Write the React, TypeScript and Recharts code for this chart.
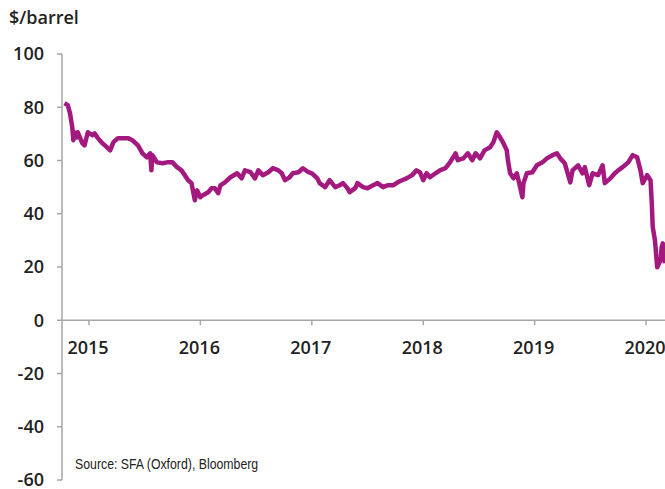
import React from 'react';
import { LineChart, Line, XAxis, YAxis, ReferenceLine } from 'recharts';

// time as decimal year
const dates = [
  2014.78, 2014.81, 2014.83, 2014.85, 2014.86, 2014.87, 2014.89, 2014.9, 2014.94, 2014.96,
  2014.99, 2015.03, 2015.05, 2015.08, 2015.12, 2015.16, 2015.19, 2015.22, 2015.26, 2015.31,
  2015.35, 2015.39, 2015.44, 2015.48, 2015.52, 2015.55, 2015.56, 2015.57, 2015.61, 2015.66,
  2015.7, 2015.75, 2015.79, 2015.83, 2015.86, 2015.89, 2015.92, 2015.95, 2015.97, 2016.0,
  2016.02, 2016.07, 2016.1, 2016.13, 2016.16, 2016.18, 2016.22, 2016.27, 2016.33, 2016.37,
  2016.4, 2016.45, 2016.49, 2016.52, 2016.56, 2016.61, 2016.65, 2016.7, 2016.73, 2016.76,
  2016.8, 2016.83, 2016.88, 2016.92, 2016.97, 2017.0, 2017.05, 2017.07, 2017.12, 2017.16,
  2017.21, 2017.25, 2017.28, 2017.32, 2017.34, 2017.39, 2017.41, 2017.46, 2017.5, 2017.55,
  2017.59, 2017.64, 2017.68, 2017.73, 2017.77, 2017.81, 2017.85, 2017.9, 2017.94, 2017.97,
  2018.0, 2018.03, 2018.06, 2018.11, 2018.15, 2018.2, 2018.24, 2018.29, 2018.31, 2018.36,
  2018.4, 2018.44, 2018.47, 2018.51, 2018.55, 2018.6, 2018.63, 2018.66, 2018.69, 2018.72,
  2018.75, 2018.76, 2018.78, 2018.81, 2018.84, 2018.87, 2018.89, 2018.9, 2018.93, 2018.98,
  2019.02, 2019.07, 2019.11, 2019.16, 2019.2, 2019.23, 2019.27, 2019.32, 2019.34, 2019.39,
  2019.43, 2019.45, 2019.49, 2019.52, 2019.57, 2019.61, 2019.63, 2019.68, 2019.72, 2019.75,
  2019.79, 2019.84, 2019.88, 2019.92, 2019.95, 2019.97, 2020.01, 2020.04, 2020.05, 2020.06,
  2020.08, 2020.1, 2020.13, 2020.14, 2020.15, 2020.17,
];

// Brent, $/barrel
const prices = [
  81.5, 80.8, 77.7, 72.5, 67.6, 70.6, 68.7, 70.6, 66.5, 65.7,
  70.6, 69.5, 70.2, 68.4, 66.5, 65.0, 63.8, 66.9, 68.4, 68.4,
  68.4, 67.6, 65.7, 62.7, 61.2, 62.7, 56.3, 62.0, 59.3, 59.0,
  59.3, 59.3, 57.5, 56.3, 54.5, 52.6, 51.5, 45.1, 48.8, 46.2,
  46.9, 48.1, 49.6, 49.6, 47.7, 50.7, 51.8, 53.7, 55.2, 53.3,
  56.3, 55.6, 53.3, 56.3, 54.5, 55.6, 57.1, 56.3, 55.2, 52.6,
  53.7, 55.2, 55.6, 57.1, 55.6, 55.2, 53.3, 51.5, 50.0, 52.6,
  50.0, 50.7, 51.5, 49.6, 48.1, 49.6, 51.5, 50.0, 49.6, 50.7,
  51.5, 50.0, 50.7, 50.7, 51.8, 52.6, 53.3, 54.5, 56.3, 55.6,
  52.6, 55.2, 53.7, 55.2, 56.3, 57.1, 59.3, 62.7, 60.1, 60.8,
  62.7, 60.1, 62.7, 60.8, 63.8, 65.0, 66.9, 70.6, 68.7, 66.5,
  63.8, 60.1, 55.2, 53.3, 55.2, 50.0, 46.2, 51.5, 55.2, 55.6,
  58.2, 59.3, 60.8, 62.0, 62.7, 60.8, 59.0, 51.8, 56.3, 58.2,
  55.2, 57.5, 50.7, 55.2, 54.5, 58.2, 51.5, 53.3, 55.2, 56.3,
  57.5, 59.3, 62.0, 61.2, 56.3, 51.5, 54.5, 52.6, 45.1, 35.0,
  30.0, 19.9, 22.5, 27.4, 28.9, 21.4,
];

const yearTicks = [2015, 2016, 2017, 2018, 2019, 2020];
const valueTicks = [-60, -40, -20, 0, 20, 40, 60, 80, 100];

const data = dates.map((t, i) => ({ t, price: prices[i] }));

const W = 665;
const H = 489;
const TOP = 54;
const BOTTOM = 480;
const ZERO_Y = TOP + (100 / 160) * (BOTTOM - TOP);
const AXIS = '#a6a6a6';
const FONT = '"Open Sans", "Liberation Sans", sans-serif';

const YearTick = (props: any) => {
  const { x, payload } = props;
  return (
    <g>
      <line x1={x} x2={x} y1={ZERO_Y} y2={ZERO_Y + 5} stroke={AXIS} strokeWidth={1.5} />
      <text x={x - 1} y={ZERO_Y + 34} textAnchor="middle" fontFamily={FONT} fontWeight={600} fontSize={18} fill="#222">
        {payload.value}
      </text>
    </g>
  );
};

export default function App() {
  return (
    <div style={{ position: 'absolute', left: 0, top: 0, width: W, height: H, background: '#fff' }}>
      <div style={{ position: 'absolute', left: 9, top: 5, fontFamily: FONT, fontWeight: 600, fontSize: 18, color: '#222' }}>
        $/barrel
      </div>
      <LineChart width={W} height={H} data={data} margin={{ top: TOP, right: 0, bottom: H - BOTTOM - 1, left: 2 }}>
        <XAxis
          dataKey="t"
          type="number"
          domain={[2014.758, 2020.17]}
          ticks={yearTicks}
          interval={0}
          axisLine={false}
          tickLine={false}
          height={1}
          tick={<YearTick />}
          allowDataOverflow
        />
        <YAxis
          width={60}
          domain={[-60, 100]}
          ticks={valueTicks}
          interval={0}
          axisLine={{ stroke: AXIS, strokeWidth: 1.5 }}
          tickLine={{ stroke: AXIS, strokeWidth: 1.5 }}
          tickSize={5}
          tickMargin={13}
          tick={{ fill: '#222', fontSize: 18, fontWeight: 600, fontFamily: FONT }}
        />
        <ReferenceLine y={0} stroke={AXIS} strokeWidth={1.5} />
        <Line
          dataKey="price"
          type="linear"
          stroke="#a3197f"
          strokeWidth={4.5}
          strokeLinejoin="round"
          dot={false}
          isAnimationActive={false}
        />
      </LineChart>
      <div
        style={{
          position: 'absolute',
          left: 75,
          top: 455,
          fontFamily: '"Liberation Sans", sans-serif',
          fontSize: 15,
          color: '#222',
          whiteSpace: 'nowrap',
          transform: 'scaleX(0.82)',
          transformOrigin: 'left top',
        }}
      >
        Source: SFA (Oxford), Bloomberg
      </div>
    </div>
  );
}
